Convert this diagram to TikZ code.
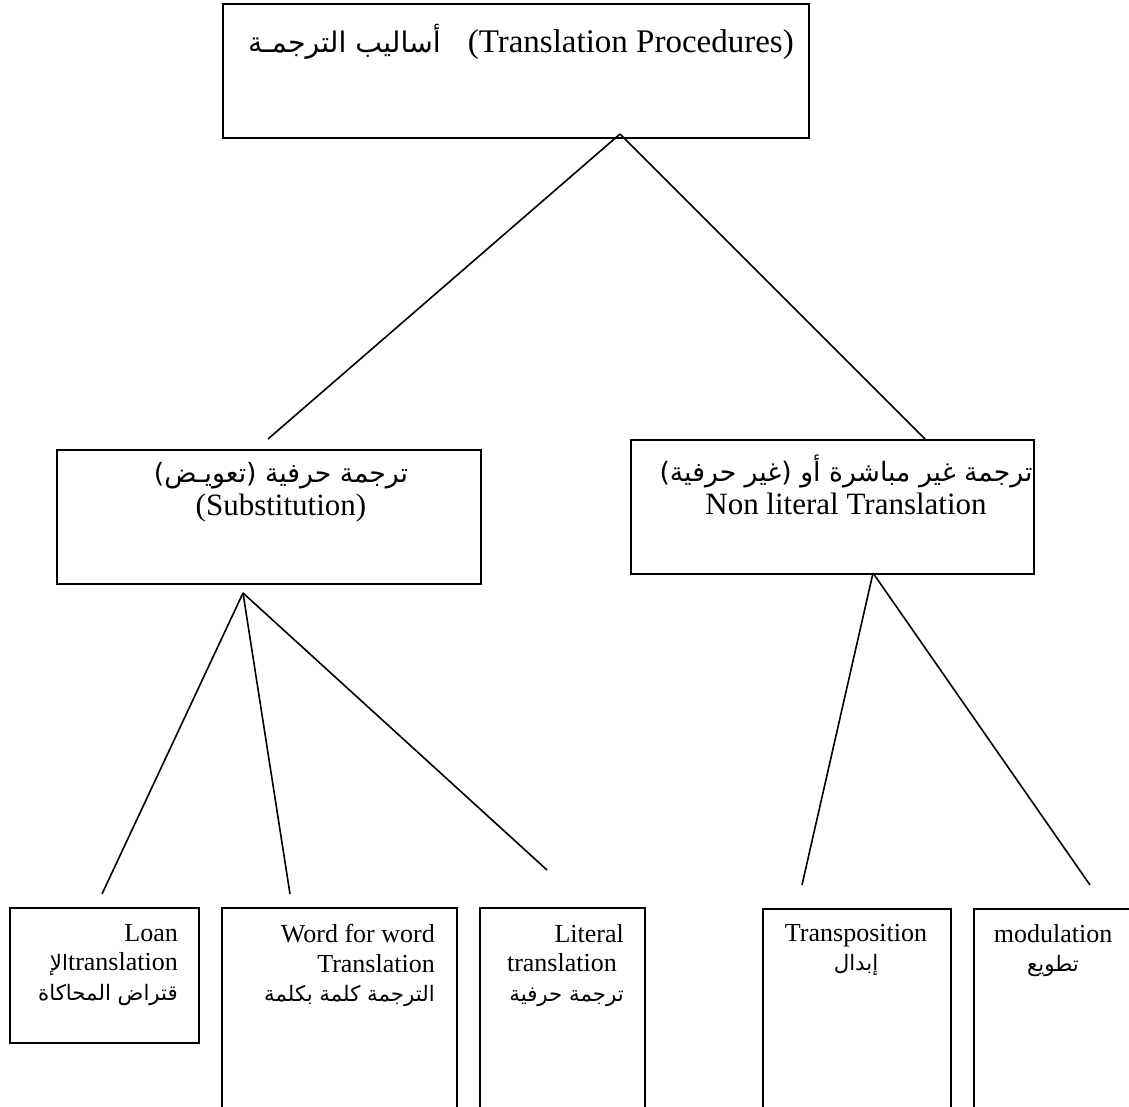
\documentclass[tikz,border=0pt]{standalone}
\usepackage{fontspec}
\setmainfont{Liberation Serif}
\newfontfamily\arabicfont[Script=Arabic,Scale=0.86]{DejaVu Sans}
\newfontfamily\arabicleaf[Script=Arabic,Scale=0.82]{DejaVu Sans}
\TeXXeTstate=1
\usetikzlibrary{positioning,calc}

\newcommand{\artext}[1]{{\arabicfont\beginR #1\endR}}
\newcommand{\arleaf}[1]{{\arabicleaf\beginR #1\endR}}

\begin{document}
\begin{tikzpicture}[
  x=1pt, y=-1pt,
  box/.style={draw, line width=1.8pt, inner sep=0pt, anchor=north west},
  lbl/.style={inner sep=0pt, anchor=north, align=center},
  big/.style={font=\fontsize{33}{38}\selectfont},
  mid/.style={font=\fontsize{31}{33}\selectfont},
  small/.style={font=\fontsize{26}{29.5}\selectfont},
  branch/.style={line width=1.6pt}
]
  \useasboundingbox (0,0) rectangle (1129,1107);

  % root
  \node[box, minimum width=586pt, minimum height=134pt] (root) at (222,3) {};
  \node[lbl, big, anchor=base west] (rootText) at (248,53)
      {\artext{أساليب الترجمـة}\hspace{27pt}(Translation Procedures)};

  % second level
  \node[box, minimum width=424pt, minimum height=134pt] (lit) at (56,449) {};
  \node[lbl, mid] (litText) at (281,462)
      {\artext{ترجمة حرفية (تعويـض)}\\(Substitution)};
  \node[box, minimum width=403pt, minimum height=134pt] (nonlit) at (630,439) {};
  \node[lbl, mid] (nonlitText) at (846,455)
      {\artext{ترجمة غير مباشرة أو (غير حرفية)}\\Non literal Translation};

  % leaves
  \node[box, minimum width=189pt, minimum height=135pt] (loan) at (9,907) {};
  \node[box, minimum width=235pt, minimum height=230pt] (word) at (221,907) {};
  \node[box, minimum width=165pt, minimum height=230pt] (literal) at (479,907) {};
  \node[box, minimum width=188pt, minimum height=230pt] (trans) at (762,908) {};
  \node[box, minimum width=170pt, minimum height=230pt] (modul) at (973,908) {};

  \node[lbl, small, anchor=north east, align=right] (loanText) at (178,924)
      {Loan\\\arleaf{الإ}translation\\\arleaf{قتراض المحاكاة}};
  \node[lbl, small, anchor=north east, align=right] (wordText) at (435,924)
      {Word for word\\Translation\\\arleaf{الترجمة كلمة بكلمة}};
  \node[lbl, small, anchor=north east, align=right] (literalText) at (624,924)
      {Literal\\translation\kern7pt\\\arleaf{ترجمة حرفية}};
  \node[lbl, small] (transText) at (856,924) {Transposition\\\arleaf{إبدال}};
  \node[lbl, small] (modulText) at (1053,924) {modulation\\\arleaf{تطويع}};

  % branch ends
  \coordinate (rootFoot) at (620,134);
  \coordinate (litHead) at (268,439);
  \coordinate (nonlitHead) at (925,439);
  \coordinate (litFoot) at (243,593);
  \coordinate (nonlitFoot) at (873,573);
  \coordinate (loanHead) at (102,894);
  \coordinate (wordHead) at (290,894);
  \coordinate (literalHead) at (547,870);
  \coordinate (transHead) at (802,885);
  \coordinate (modulHead) at (1090,885);

  \draw[branch] (rootFoot) -- (litHead);
  \draw[branch] (rootFoot) -- (nonlitHead);
  \draw[branch] (litFoot) -- (loanHead);
  \draw[branch] (litFoot) -- (wordHead);
  \draw[branch] (litFoot) -- (literalHead);
  \draw[branch] (nonlitFoot) -- (transHead);
  \draw[branch] (nonlitFoot) -- (modulHead);
\end{tikzpicture}
\end{document}
